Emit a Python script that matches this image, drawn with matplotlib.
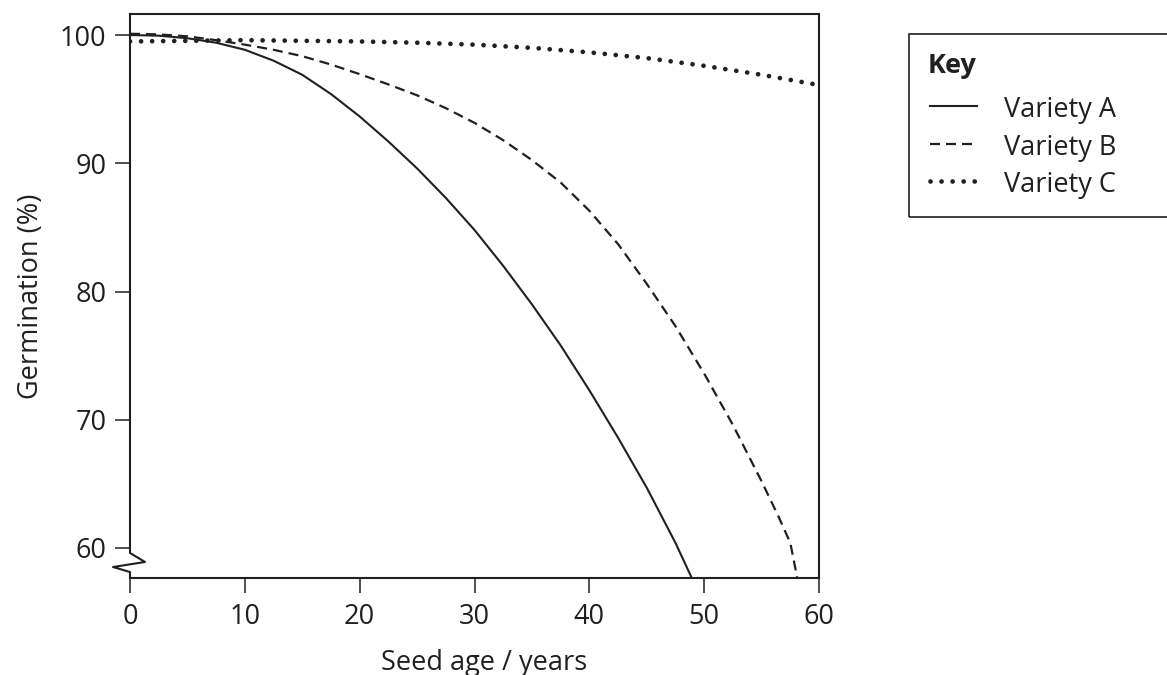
import matplotlib
matplotlib.use("Agg")
import matplotlib.pyplot as plt
from matplotlib.lines import Line2D
from matplotlib.patches import Rectangle

plt.rcParams['font.family'] = ['Open Sans', 'DejaVu Sans']

# data
age_a = [0, 2.5, 5, 7.5, 10, 12.5, 15, 17.5, 20, 22.5, 25, 27.5, 30, 32.5, 35, 37.5, 40, 42.5, 45, 47.5, 48.9]
germ_a = [100.0, 99.95, 99.75, 99.4, 98.85, 98.0, 96.9, 95.4, 93.65, 91.7, 89.6, 87.3, 84.8, 82.0, 79.0, 75.8, 72.3, 68.6, 64.7, 60.4, 57.7]

age_b = [0, 2.5, 5, 7.5, 10, 12.5, 15, 17.5, 20, 22.5, 25, 27.5, 30, 32.5, 35, 37.5, 40, 42.5, 45, 47.5, 50, 52.5, 55, 56.5, 57.5, 58.1]
germ_b = [100.1, 100.05, 99.9, 99.6, 99.25, 98.85, 98.35, 97.7, 96.95, 96.15, 95.3, 94.3, 93.15, 91.8, 90.25, 88.5, 86.3, 83.7, 80.6, 77.3, 73.6, 69.6, 65.2, 62.4, 60.4, 57.7]

age_c = [0, 5, 10, 15, 20, 25, 30, 35, 40, 45, 50, 55, 60]
germ_c = [99.5, 99.55, 99.6, 99.55, 99.5, 99.4, 99.25, 99.0, 98.65, 98.2, 97.6, 96.9, 96.1]

xticks = [0, 10, 20, 30, 40, 50, 60]
yticks = [60, 70, 80, 90, 100]
labels = ['Variety A', 'Variety B', 'Variety C']

W, H = 1167, 675
fs = 19.5

def fx(px):
    return px / W

def fy(py):
    return 1 - py / H

fig = plt.figure(figsize=(W / 100, H / 100), dpi=100)
ax = fig.add_axes([fx(130), fy(578), (819 - 130) / W, (578 - 14) / H])

solid = dict(color='#231f20', linewidth=1.5, linestyle='-')
dashed = dict(color='#231f20', linewidth=1.6, linestyle=(0, (4.5, 2.7)))
dotted = dict(color='#231f20', linewidth=3.4, linestyle=(0, (0.01, 2.33)),
              dash_capstyle='round')

ax.plot(age_a, germ_a, **solid)
ax.plot(age_b, germ_b, **dashed)
ax.plot(age_c, germ_c, **dotted)

ax.set_xlim(0, 60)
ax.set_ylim(57.66, 101.64)
ax.set_xticks(xticks)
ax.set_yticks(yticks)
ax.tick_params(direction='out', length=11, width=1.1, colors='#231f20',
               labelsize=fs, labelcolor='#231f20')
ax.tick_params(axis='y', pad=6)
ax.tick_params(axis='x', pad=7)

for s in ['top', 'right', 'bottom']:
    ax.spines[s].set_linewidth(1.5)
    ax.spines[s].set_color('#231f20')
ax.spines['left'].set_visible(False)

# left axis with the break mark near the bottom
ax.add_line(Line2D([0, 0, 0.0218, -0.0247, 0, 0],
                   [1, 0.0443, 0.0284, 0.0195, 0.0106, 0],
                   transform=ax.transAxes, clip_on=False,
                   color='#231f20', linewidth=1.5))

fig.text(fx(484), fy(670), 'Seed age / years', fontsize=fs, ha='center',
         va='baseline', color='#231f20')
fig.text(fx(31), fy(296), 'Germination (%)', fontsize=fs, ha='center',
         va='center', rotation=90, color='#231f20')

# key box
fig.patches.append(Rectangle((fx(909), fy(217)), (W - 909 + 20) / W, (217 - 34) / H,
                             transform=fig.transFigure, fill=False,
                             edgecolor='#231f20', linewidth=1.2))
fig.text(fx(928), fy(73), 'Key', fontsize=fs, fontweight='bold', ha='left',
         va='baseline', color='#231f20')
styles = [solid, dashed, dotted]
for i, (lab, st) in enumerate(zip(labels, styles)):
    yc = 107 + i * 37.5
    fig.add_artist(Line2D([fx(930), fx(977)], [fy(yc - 1), fy(yc - 1)],
                          transform=fig.transFigure, **st))
    fig.text(fx(1004), fy(yc + 10), lab, fontsize=fs, ha='left',
             va='baseline', color='#231f20')

fig.savefig('out.png', dpi=100)
